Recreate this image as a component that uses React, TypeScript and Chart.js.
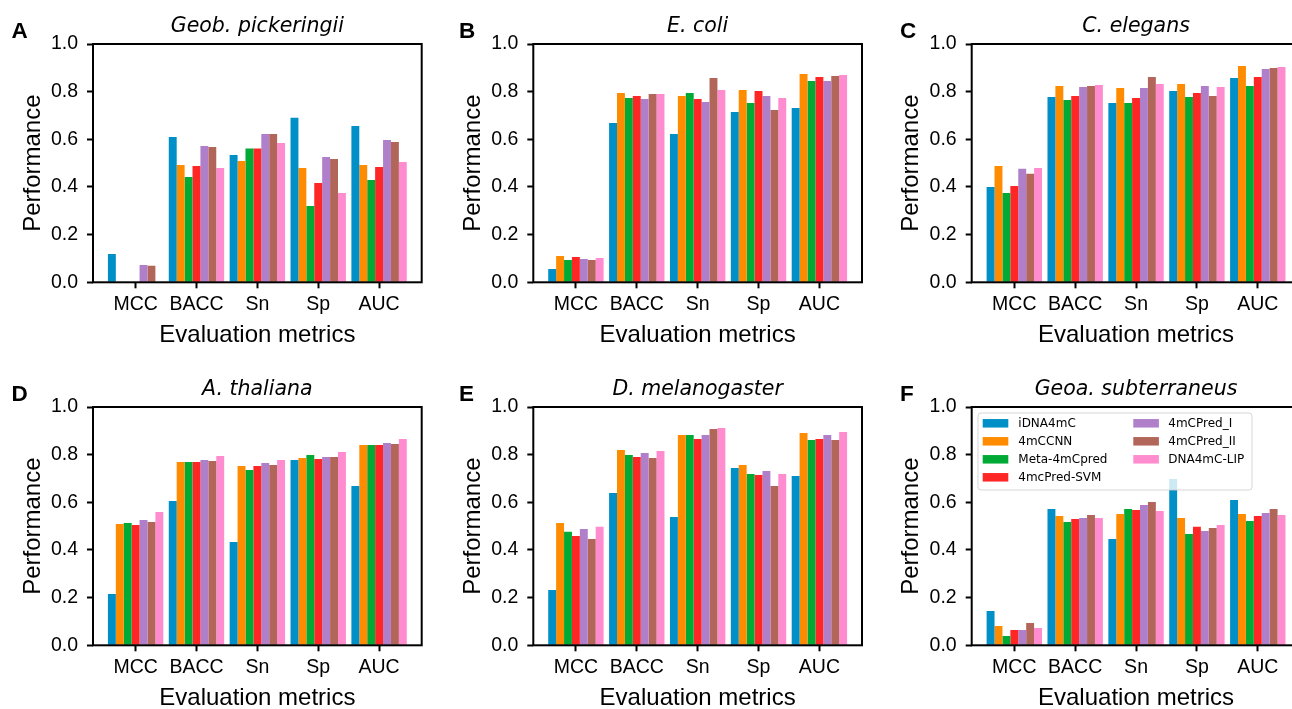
import React, { useEffect, useRef } from 'react';
import { Chart, registerables } from 'chart.js';

Chart.register(...registerables);

const metrics = ['MCC', 'BACC', 'Sn', 'Sp', 'AUC'];
const methods = ['iDNA4mC', '4mCCNN', 'Meta-4mCpred', '4mcPred-SVM', '4mCPred_I', '4mCPred_II', 'DNA4mC-LIP'];
const methodColors = ['#008fc7', '#ff8c00', '#00aa35', '#ff2626', '#b07fca', '#b26659', '#ff8ccf'];
const yTickValues = [0, 0.2, 0.4, 0.6, 0.8, 1.0];

// values per method, ordered as metrics (MCC, BACC, Sn, Sp, AUC)
const geobPickeringii = [
  [0.119, 0.610, 0.534, 0.690, 0.656],
  [0, 0.492, 0.509, 0.480, 0.492],
  [0, 0.442, 0.561, 0.320, 0.429],
  [0, 0.488, 0.561, 0.417, 0.484],
  [0.073, 0.572, 0.622, 0.526, 0.597],
  [0.069, 0.568, 0.622, 0.517, 0.589],
  [0, 0.480, 0.585, 0.375, 0.505],
];
const eColi = [
  [0.056, 0.669, 0.622, 0.715, 0.731],
  [0.110, 0.794, 0.782, 0.807, 0.874],
  [0.094, 0.773, 0.794, 0.752, 0.845],
  [0.106, 0.782, 0.769, 0.803, 0.862],
  [0.098, 0.769, 0.757, 0.782, 0.845],
  [0.094, 0.790, 0.857, 0.723, 0.866],
  [0.102, 0.790, 0.807, 0.773, 0.870],
];
const cElegans = [
  [0.400, 0.778, 0.752, 0.803, 0.857],
  [0.488, 0.824, 0.815, 0.832, 0.908],
  [0.375, 0.765, 0.752, 0.778, 0.824],
  [0.404, 0.782, 0.773, 0.794, 0.862],
  [0.476, 0.820, 0.815, 0.824, 0.895],
  [0.455, 0.824, 0.862, 0.782, 0.899],
  [0.480, 0.828, 0.832, 0.820, 0.903],
];
const aThaliana = [
  [0.215, 0.606, 0.434, 0.778, 0.669],
  [0.509, 0.769, 0.752, 0.786, 0.841],
  [0.513, 0.769, 0.736, 0.799, 0.841],
  [0.505, 0.769, 0.752, 0.782, 0.841],
  [0.526, 0.778, 0.765, 0.790, 0.849],
  [0.517, 0.773, 0.757, 0.790, 0.845],
  [0.559, 0.794, 0.778, 0.811, 0.866],
];
const dMelanogaster = [
  [0.232, 0.639, 0.538, 0.744, 0.710],
  [0.513, 0.820, 0.883, 0.757, 0.891],
  [0.476, 0.799, 0.883, 0.719, 0.862],
  [0.459, 0.790, 0.866, 0.715, 0.866],
  [0.488, 0.807, 0.883, 0.731, 0.883],
  [0.446, 0.786, 0.908, 0.669, 0.862],
  [0.497, 0.815, 0.912, 0.719, 0.895],
];
const geoaSubterraneus = [
  [0.144, 0.572, 0.446, 0.698, 0.610],
  [0.081, 0.543, 0.551, 0.534, 0.551],
  [0.039, 0.517, 0.572, 0.467, 0.522],
  [0.064, 0.530, 0.568, 0.497, 0.543],
  [0.064, 0.534, 0.589, 0.480, 0.555],
  [0.094, 0.547, 0.601, 0.492, 0.572],
  [0.073, 0.534, 0.564, 0.505, 0.547],
];

const panels = [
  { letter: 'A', title: 'Geob. pickeringii', data: geobPickeringii, col: 0, row: 0, legend: false },
  { letter: 'B', title: 'E. coli', data: eColi, col: 1, row: 0, legend: false },
  { letter: 'C', title: 'C. elegans', data: cElegans, col: 2, row: 0, legend: false },
  { letter: 'D', title: 'A. thaliana', data: aThaliana, col: 0, row: 1, legend: false },
  { letter: 'E', title: 'D. melanogaster', data: dMelanogaster, col: 1, row: 1, legend: false },
  { letter: 'F', title: 'Geoa. subterraneus', data: geoaSubterraneus, col: 2, row: 1, legend: true },
];

const AREA_LEFTS = [93, 533.3, 971.7];
const AREA_TOPS = [44, 407];
const AREA_W = 328.7;
const AREA_H = 238.3;
const LETTER_X = [11.5, 459, 900];
const CW = 440;
const CH = 360;
const SANS = "'Liberation Sans', Arial, sans-serif";
const DEJAVU = "'DejaVu Sans', sans-serif";

function Panel({ spec }: { spec: any }) {
  const ref = useRef<HTMLCanvasElement>(null);
  const areaLeft = AREA_LEFTS[spec.col];
  const areaTop = AREA_TOPS[spec.row];
  const canvasLeft = Math.round(areaLeft - 93);
  const canvasTop = Math.round(areaTop - 44);
  const yAxisWidth = areaLeft - canvasLeft;
  const padTop = areaTop - canvasTop;
  const padRight = CW - (yAxisWidth + AREA_W);
  const xAxisHeight = CH - (padTop + AREA_H);

  useEffect(() => {
    const decor = {
      id: 'decor',
      afterDraw(chart: any) {
        const ctx = chart.ctx;
        const a = chart.chartArea;
        ctx.save();
        // frame
        ctx.strokeStyle = '#000';
        ctx.lineWidth = 2;
        ctx.strokeRect(a.left, a.top, a.right - a.left, a.bottom - a.top);
        // title
        ctx.fillStyle = '#000';
        ctx.font = `italic 20.5px ${DEJAVU}`;
        ctx.textAlign = 'center';
        ctx.textBaseline = 'alphabetic';
        ctx.fillText(spec.title, (a.left + a.right) / 2, a.top - 12);
        // panel letter
        ctx.font = `bold 22.5px ${SANS}`;
        ctx.textAlign = 'left';
        ctx.fillText(spec.letter, LETTER_X[spec.col] - canvasLeft, 37.5);
        // axis titles
        ctx.font = `24px ${SANS}`;
        ctx.textAlign = 'center';
        ctx.fillText('Evaluation metrics', (a.left + a.right) / 2, a.bottom + 59.7);
        ctx.save();
        ctx.translate(a.left - 53.5, (a.top + a.bottom) / 2);
        ctx.rotate(-Math.PI / 2);
        ctx.fillText('Performance', 0, 0);
        ctx.restore();
        // legend
        if (spec.legend) {
          const bx = a.left + 6.3;
          const by = a.top + 6;
          const bw = 274;
          const bh = 77;
          const r = 3;
          ctx.beginPath();
          ctx.moveTo(bx + r, by);
          ctx.lineTo(bx + bw - r, by);
          ctx.quadraticCurveTo(bx + bw, by, bx + bw, by + r);
          ctx.lineTo(bx + bw, by + bh - r);
          ctx.quadraticCurveTo(bx + bw, by + bh, bx + bw - r, by + bh);
          ctx.lineTo(bx + r, by + bh);
          ctx.quadraticCurveTo(bx, by + bh, bx, by + bh - r);
          ctx.lineTo(bx, by + r);
          ctx.quadraticCurveTo(bx, by, bx + r, by);
          ctx.closePath();
          ctx.fillStyle = 'rgba(255,255,255,0.8)';
          ctx.fill();
          ctx.strokeStyle = 'rgba(204,204,204,0.8)';
          ctx.lineWidth = 1;
          ctx.stroke();
          ctx.font = `12px ${DEJAVU}`;
          ctx.textAlign = 'left';
          ctx.textBaseline = 'middle';
          methods.forEach((m, i) => {
            const colIdx = i < 4 ? 0 : 1;
            const rowIdx = i < 4 ? i : i - 4;
            const cy = by + 10.3 + rowIdx * 18;
            const px = bx + (colIdx === 0 ? 4.7 : 155.3);
            const tx = bx + (colIdx === 0 ? 40.3 : 190.3);
            ctx.fillStyle = methodColors[i];
            ctx.fillRect(px, cy - 4.25, 25.6, 8.5);
            ctx.fillStyle = '#000';
            ctx.fillText(m, tx, cy + 0.5);
          });
        }
        ctx.restore();
      },
    };

    const chart = new Chart(ref.current as HTMLCanvasElement, {
      type: 'bar',
      data: {
        datasets: methods.map((m, i) => ({
          label: m,
          data: spec.data[i].map((v: number, k: number) => ({ x: k, y: v })),
          backgroundColor: methodColors[i],
          borderWidth: 0,
          categoryPercentage: 0.91,
          barPercentage: 1.0,
        })),
      },
      options: {
        animation: false,
        responsive: false,
        events: [],
        layout: { padding: { left: 0, top: padTop, right: padRight, bottom: 0 } },
        plugins: { legend: { display: false }, title: { display: false }, tooltip: { enabled: false } },
        scales: {
          x: {
            type: 'linear',
            min: -0.7,
            max: 4.7,
            offset: false,
            afterBuildTicks: (s: any) => {
              s.ticks = metrics.map((_, i) => ({ value: i }));
            },
            afterFit: (s: any) => {
              s.height = xAxisHeight;
            },
            ticks: {
              autoSkip: false,
              maxRotation: 0,
              padding: 5,
              color: '#000',
              font: { family: SANS, size: 19.5 },
              callback: (v: any) => metrics[Math.round(Number(v))],
            },
            grid: {
              display: true,
              offset: false,
              drawOnChartArea: false,
              drawTicks: true,
              tickLength: 6,
              tickWidth: 2,
              tickColor: '#000',
            },
            border: { display: false },
          },
          y: {
            type: 'linear',
            min: 0,
            max: 1,
            afterBuildTicks: (s: any) => {
              s.ticks = yTickValues.map((v) => ({ value: v }));
            },
            afterFit: (s: any) => {
              s.width = yAxisWidth;
            },
            ticks: {
              padding: 9,
              color: '#000',
              font: { family: SANS, size: 19.5 },
              callback: (v: any) => Number(v).toFixed(1),
            },
            grid: {
              display: true,
              drawOnChartArea: false,
              drawTicks: true,
              tickLength: 6,
              tickWidth: 2,
              tickColor: '#000',
            },
            border: { display: false },
          },
        },
      } as any,
      plugins: [decor],
    });
    return () => chart.destroy();
  }, []);

  return (
    <canvas
      ref={ref}
      width={CW}
      height={CH}
      style={{ position: 'absolute', left: canvasLeft, top: canvasTop, width: CW, height: CH }}
    />
  );
}

export default function App() {
  return (
    <div
      style={{
        position: 'absolute',
        left: 0,
        top: 0,
        width: 1292,
        height: 709,
        overflow: 'hidden',
        background: '#fff',
      }}
    >
      {panels.map((p) => (
        <Panel key={p.letter} spec={p} />
      ))}
    </div>
  );
}
